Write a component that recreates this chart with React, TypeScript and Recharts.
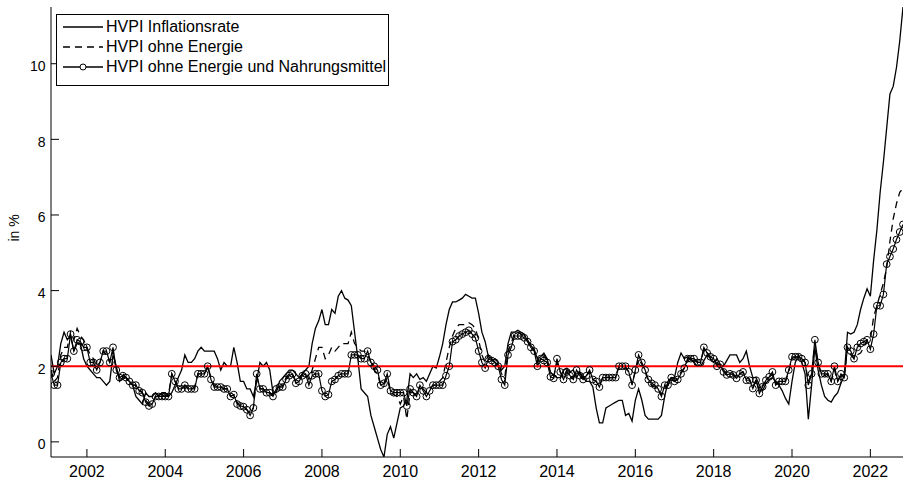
import { LineChart, Line, XAxis, YAxis, ReferenceLine, Legend } from 'recharts';

// monthly values, Jan 2001 .. Oct 2022 (one row per year)
const hvpi = [
  2.3, 1.8, 2.0, 2.6, 2.9, 2.7, 2.8, 2.4, 2.6, 2.6, 2.2, 2.0,
  1.9, 1.8, 1.7, 1.7, 1.6, 1.5, 1.6, 2.3, 2.0, 1.6, 1.7, 1.7,
  1.6, 1.5, 1.2, 1.1, 1.0, 1.3, 1.2, 1.2, 1.3, 1.2, 1.3, 1.3,
  1.2, 1.3, 1.5, 1.7, 1.9, 2.3, 2.1, 2.1, 2.2, 2.4, 2.5, 2.4,
  2.4, 2.4, 2.4, 2.2, 1.9, 2.1, 2.0, 2.0, 2.5, 2.1, 1.6, 1.6,
  1.4, 1.4, 1.2, 1.6, 2.1, 2.0, 2.1, 1.9, 1.3, 1.3, 1.6, 1.7,
  1.8, 1.9, 1.9, 1.8, 1.7, 1.8, 1.9, 2.0, 2.6, 3.0, 3.2, 3.5,
  3.1, 3.1, 3.5, 3.4, 3.85, 4.0, 3.8, 3.75, 3.6, 2.9, 2.2, 1.4,
  1.3, 1.2, 0.7, 0.4, 0.1, -0.2, -0.4, 0.2, 0.4, 0.1, 0.5, 0.9,
  0.95, 1.1, 1.8, 1.7, 1.8, 1.65, 1.7, 1.6, 1.8, 2.0, 1.95, 2.25,
  2.6, 3.1, 3.5, 3.7, 3.7, 3.75, 3.8, 3.9, 3.85, 3.8, 3.8, 3.4,
  2.9, 2.65, 2.25, 2.2, 2.1, 2.05, 1.9, 2.0, 2.6, 2.9, 2.9, 2.95,
  2.9, 2.85, 2.65, 2.55, 2.45, 2.2, 2.25, 2.35, 2.2, 1.85, 1.75, 1.7,
  1.7, 1.9, 1.95, 1.85, 1.9, 1.7, 1.85, 1.7, 1.6, 1.6, 1.45, 0.9,
  0.5, 0.5, 0.9, 0.95, 1.0, 1.05, 1.1, 1.1, 0.7, 0.75, 0.55, 1.1,
  1.4, 1.1, 0.7, 0.6, 0.6, 0.6, 0.6, 0.7, 1.2, 1.6, 1.7, 1.7,
  2.1, 2.35, 2.2, 2.25, 2.2, 2.1, 2.0, 2.0, 2.15, 2.3, 2.2, 2.1,
  2.2, 2.05, 2.0, 2.15, 2.3, 2.3, 2.3, 2.1, 2.2, 2.4, 2.0, 1.7,
  1.7, 1.5, 1.35, 1.55, 1.65, 1.7, 1.6, 1.5, 1.35, 1.15, 1.0, 1.6,
  2.1, 2.3, 2.1, 1.8, 0.6, 1.5, 2.5, 1.9, 1.5, 1.2, 1.1, 1.05,
  1.2, 1.3, 1.55, 1.75, 2.9, 2.85, 2.9, 3.1, 3.5, 3.8, 4.05, 3.85,
  4.8, 5.6, 6.6, 7.4, 8.3, 9.2, 9.4, 9.9, 10.6, 11.5,
];

const hvpiOhneEnergie = [
  1.9, 1.6, 1.7, 2.3, 2.5, 2.5, 2.9, 2.7, 3.0, 2.8, 2.7, 2.5,
  2.3, 2.2, 2.0, 2.1, 2.4, 2.3, 2.1, 2.4, 1.9, 1.7, 1.8, 1.7,
  1.6, 1.5, 1.5, 1.4, 1.3, 1.1, 1.0, 1.0, 1.2, 1.2, 1.25, 1.2,
  1.25, 1.8, 1.6, 1.45, 1.4, 1.5, 1.45, 1.4, 1.45, 1.8, 1.8, 1.8,
  2.0, 1.7, 1.5, 1.45, 1.45, 1.4, 1.4, 1.2, 1.25, 1.05, 0.95, 0.95,
  0.85, 0.75, 0.9, 1.75, 1.4, 1.4, 1.3, 1.3, 1.25, 1.4, 1.45, 1.5,
  1.7, 1.8, 1.8, 1.6, 1.65, 1.8, 1.85, 1.65, 1.9, 2.2, 2.5, 2.5,
  2.2, 2.3, 2.5, 2.4, 2.5, 2.6, 2.6, 2.6, 2.9, 2.6, 2.5, 2.4,
  2.4, 2.3, 2.1, 1.9, 1.8, 1.5, 1.5, 1.7, 1.3, 1.25, 1.2, 1.0,
  1.2, 0.6, 1.3, 1.3, 1.2, 1.5, 1.4, 1.3, 1.4, 1.5, 1.5, 1.6,
  1.7, 2.1, 2.5, 2.8, 3.0, 3.1, 3.1, 3.1, 3.15, 3.1, 3.0, 2.7,
  2.3, 2.1, 2.3, 2.2, 2.2, 2.1, 1.8, 1.7, 2.4, 2.6, 2.9, 2.9,
  2.85, 2.8, 2.7, 2.55, 2.45, 2.1, 2.3, 2.3, 2.15, 1.8, 1.75, 2.1,
  1.85, 1.7, 1.9, 1.8, 1.7, 1.9, 1.8, 1.7, 1.75, 1.85, 1.65, 1.6,
  1.5, 1.7, 1.75, 1.7, 1.7, 1.75, 2.0, 1.95, 1.95, 1.85, 1.55, 1.85,
  2.2, 2.05, 1.85, 1.6, 1.5, 1.45, 1.4, 1.25, 1.45, 1.5, 1.65, 1.6,
  1.7, 1.85, 1.95, 2.15, 2.2, 2.2, 2.1, 2.1, 2.45, 2.35, 2.25, 2.2,
  2.05, 2.05, 1.9, 1.8, 1.85, 1.8, 1.7, 1.8, 1.85, 1.7, 1.65, 1.45,
  1.65, 1.35, 1.5, 1.6, 1.7, 1.8, 1.55, 1.6, 1.6, 1.6, 1.85, 2.2,
  2.25, 2.25, 2.2, 2.1, 1.6, 1.8, 2.6, 2.05, 1.8, 1.75, 1.8, 1.6,
  1.9, 1.6, 1.75, 1.7, 2.5, 2.3, 2.2, 2.3, 2.35, 2.5, 2.7, 2.7,
  3.3, 3.6, 3.9, 4.2, 4.6, 5.3, 5.9, 6.3, 6.6, 6.7,
];

const hvpiOhneEnergieNahrung = [
  1.8, 1.5, 1.5, 2.1, 2.2, 2.2, 2.85, 2.4, 2.7, 2.65, 2.5, 2.5,
  2.1, 2.1, 1.9, 2.1, 2.4, 2.4, 2.1, 2.5, 1.9, 1.7, 1.75, 1.7,
  1.6, 1.5, 1.5, 1.35, 1.3, 1.05, 0.95, 1.0, 1.2, 1.2, 1.2, 1.2,
  1.2, 1.8, 1.6, 1.4, 1.4, 1.5, 1.4, 1.4, 1.4, 1.8, 1.8, 1.8,
  2.0, 1.65, 1.45, 1.45, 1.45, 1.4, 1.4, 1.2, 1.25, 1.0, 0.95, 0.93,
  0.85, 0.7, 0.9, 1.8, 1.4, 1.4, 1.3, 1.3, 1.2, 1.4, 1.45, 1.45,
  1.65, 1.75, 1.8, 1.55, 1.6, 1.75, 1.8, 1.5, 1.75, 1.8, 1.8, 1.35,
  1.2, 1.25, 1.6, 1.65, 1.75, 1.8, 1.8, 1.8, 2.3, 2.3, 2.3, 2.2,
  2.2, 2.4, 2.1, 2.0, 1.9, 1.5, 1.55, 1.8, 1.35, 1.3, 1.3, 1.3,
  1.3, 0.95, 1.4, 1.3, 1.2, 1.5, 1.35, 1.2, 1.35, 1.5, 1.5, 1.5,
  1.5, 1.75, 2.0, 2.65, 2.7, 2.8, 2.85, 2.9, 2.95, 2.85, 2.75, 2.4,
  2.1, 1.95, 2.2, 2.15, 2.1, 2.0, 1.65, 1.5, 2.3, 2.5, 2.8, 2.8,
  2.8, 2.75, 2.65, 2.5, 2.4, 2.0, 2.2, 2.15, 2.1, 1.72, 1.68, 2.2,
  1.85, 1.65, 1.85, 1.75, 1.65, 1.9, 1.75, 1.65, 1.75, 1.9, 1.65, 1.6,
  1.45, 1.7, 1.7, 1.7, 1.7, 1.7, 2.0, 2.0, 2.0, 1.85, 1.5, 1.9,
  2.3, 2.1, 1.9, 1.65, 1.55, 1.5, 1.4, 1.2, 1.5, 1.5, 1.7, 1.6,
  1.65, 1.8, 1.95, 2.2, 2.2, 2.2, 2.1, 2.1, 2.5, 2.35, 2.25, 2.2,
  2.0, 2.05, 1.85, 1.77, 1.8, 1.77, 1.68, 1.8, 1.85, 1.63, 1.63, 1.41,
  1.63, 1.28, 1.46, 1.63, 1.72, 1.85, 1.5, 1.6, 1.6, 1.6, 1.9, 2.25,
  2.25, 2.25, 2.2, 2.1, 1.5, 1.8, 2.7, 2.1, 1.8, 1.8, 1.8, 1.6,
  2.0, 1.6, 1.8, 1.7, 2.5, 2.4, 2.2, 2.5, 2.6, 2.65, 2.7, 2.45,
  2.85, 3.6, 3.6, 3.9, 4.7, 4.9, 5.1, 5.35, 5.55, 5.75,
];

const yearTicks = [2002, 2004, 2006, 2008, 2010, 2012, 2014, 2016, 2018, 2020, 2022];
const valueTicks = [0, 2, 4, 6, 8, 10];
const xDomain = [2001 + 1 / 12, 2022 + 10 / 12];
const yDomain = [-0.4, 11.5];

// month positions on the time axis (Jan 2001 = 2001 + 1/12)
const months = hvpi.map((_, i) => 2001 + (i + 1) / 12);

const data = months.map((t, i) => ({
  t,
  hvpi: hvpi[i],
  ohneEnergie: hvpiOhneEnergie[i],
  kern: hvpiOhneEnergieNahrung[i],
}));

const FONT = '"Liberation Sans", Arial, Helvetica, sans-serif';
const TOP = 7;
const BOTTOM = 457;
const LEFT = 51;
const RIGHT = 903;

// MATLAB-style ticks pointing into the plot box
const bottomTick = (p: any) => (
  <g>
    <line x1={p.x} x2={p.x} y1={BOTTOM} y2={BOTTOM - 8} stroke="#000" />
    <text x={p.x} y={BOTTOM + 19.5} textAnchor="middle" fontSize={16} fontFamily={FONT} fill="#000">
      {p.payload.value}
    </text>
  </g>
);

const topTick = (p: any) => (
  <line x1={p.x} x2={p.x} y1={TOP} y2={TOP + 7} stroke="#000" />
);

const leftTick = (p: any) => (
  <g>
    <line x1={LEFT} x2={LEFT + 8} y1={p.y} y2={p.y} stroke="#000" />
    <text x={45.5} y={p.y + 7.5} textAnchor="end" fontSize={14} fontFamily={FONT} fill="#000">
      {p.payload.value}
    </text>
  </g>
);

const rightTick = (p: any) => (
  <line x1={RIGHT} x2={RIGHT - 7} y1={p.y} y2={p.y} stroke="#000" />
);

const yLabel = () => (
  <text transform="translate(18.5, 228) rotate(-90)" textAnchor="middle" fontSize={14} fontFamily={FONT} fill="#000">
    in %
  </text>
);

const legendRows = [
  { label: 'HVPI Inflationsrate', dash: undefined, marker: false },
  { label: 'HVPI ohne Energie', dash: '7 5', marker: false },
  { label: 'HVPI ohne Energie und Nahrungsmittel', dash: undefined, marker: true },
];

function LegendBox() {
  return (
    <div
      style={{
        border: '1px solid #000',
        background: '#fff',
        width: 333,
        height: 72,
        boxSizing: 'border-box',
        padding: '2px 0 0 4px',
        fontFamily: FONT,
        fontSize: 16,
        color: '#000',
      }}
    >
      {legendRows.map((r) => (
        <div key={r.label} style={{ display: 'flex', alignItems: 'center', height: 20, whiteSpace: 'nowrap' }}>
          <svg width={44} height={20} style={{ flex: 'none' }}>
            <line x1={2} x2={42} y1={10} y2={10} stroke="#000" strokeWidth={1.3} strokeDasharray={r.dash} />
            {r.marker && <circle cx={22} cy={10} r={3} fill="#fff" stroke="#000" strokeWidth={1} />}
          </svg>
          <span style={{ marginLeft: 1 }}>{r.label}</span>
        </div>
      ))}
    </div>
  );
}

export default function App() {
  return (
    <div style={{ position: 'absolute', left: 0, top: 0, width: 904, height: 478, background: '#fff' }}>
      <LineChart width={904} height={478} data={data} margin={{ top: TOP, right: 1, bottom: 0, left: 0 }}>
        <XAxis
          dataKey="t"
          type="number"
          domain={xDomain}
          ticks={yearTicks}
          interval={0}
          allowDataOverflow
          height={21}
          tickSize={0}
          tickMargin={0}
          tickLine={false}
          axisLine={{ stroke: '#000' }}
          tick={bottomTick}
        />
        <XAxis
          xAxisId="top"
          orientation="top"
          dataKey="t"
          type="number"
          domain={xDomain}
          ticks={yearTicks}
          interval={0}
          allowDataOverflow
          height={0}
          tickSize={0}
          tickLine={false}
          axisLine={{ stroke: '#000' }}
          tick={topTick}
        />
        <YAxis
          type="number"
          domain={yDomain}
          ticks={valueTicks}
          interval={0}
          allowDataOverflow
          width={51}
          tickSize={0}
          tickMargin={0}
          tickLine={false}
          axisLine={{ stroke: '#000' }}
          tick={leftTick}
          label={yLabel}
        />
        <YAxis
          yAxisId="right"
          orientation="right"
          type="number"
          domain={yDomain}
          ticks={valueTicks}
          interval={0}
          allowDataOverflow
          width={0}
          tickSize={0}
          tickLine={false}
          axisLine={{ stroke: '#000' }}
          tick={rightTick}
        />
        <Line
          type="linear"
          dataKey="hvpi"
          stroke="#000"
          strokeWidth={1.3}
          dot={false}
          activeDot={false}
          isAnimationActive={false}
        />
        <Line
          type="linear"
          dataKey="ohneEnergie"
          stroke="#000"
          strokeWidth={1.3}
          strokeDasharray="7 5"
          dot={false}
          activeDot={false}
          isAnimationActive={false}
        />
        <Line
          type="linear"
          dataKey="kern"
          stroke="#000"
          strokeWidth={1.2}
          dot={{ r: 3.4, fill: 'none', stroke: '#000', strokeWidth: 1 }}
          activeDot={false}
          isAnimationActive={false}
        />
        <ReferenceLine y={2} stroke="#ff0000" strokeWidth={2} />
        <Legend
          layout="horizontal"
          verticalAlign="middle"
          align="center"
          wrapperStyle={{ left: 56, top: 14, width: 334, height: 72 }}
          content={() => <LegendBox />}
        />
      </LineChart>
    </div>
  );
}
